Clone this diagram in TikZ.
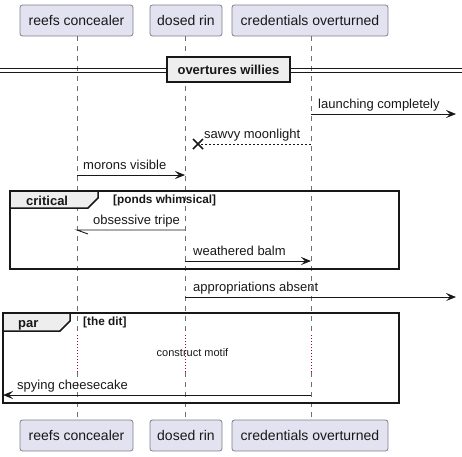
\documentclass[tikz,border=0pt]{standalone}
\usepackage{fontspec}
\setmainfont{Liberation Sans}
\usetikzlibrary{arrows.meta}
\definecolor{pfill}{HTML}{E2E2F0}
\definecolor{pline}{HTML}{7F7F8A}
\definecolor{lline}{HTML}{707070}
\definecolor{ink}{HTML}{181818}
\definecolor{tabfill}{HTML}{EEEEEE}
\definecolor{delay}{HTML}{A80036}
\tikzset{
  part/.style={draw=pline, fill=pfill, rounded corners=2.5pt, line width=0.8pt, minimum height=31pt, inner xsep=0pt, font=\fontsize{14}{16}\selectfont, text=ink},
  life/.style={draw=lline, line width=0.8pt, dash pattern=on 5pt off 5pt},
  dly/.style={draw=delay, line width=1pt, dash pattern=on 1pt off 2pt},
  msg/.style={draw=ink, line width=0.9pt, -{Stealth[length=10pt,width=8pt,inset=4pt]}},
  dmsg/.style={draw=ink, line width=0.9pt, dash pattern=on 2pt off 2pt},
  mtxt/.style={anchor=base west, inner sep=0pt, font=\fontsize{13}{15}\selectfont, text=ink},
  frm/.style={draw=ink, line width=1.5pt},
  tab/.style={draw=ink, fill=tabfill, line width=1.5pt},
  ftitle/.style={anchor=base west, inner sep=0pt, font=\bfseries\fontsize{13}{15}\selectfont, text=ink},
  fcond/.style={anchor=base west, inner sep=0pt, font=\bfseries\fontsize{11.8}{13}\selectfont, text=ink},
}
\begin{document}
\begin{tikzpicture}[x=1pt,y=-1pt]
\useasboundingbox (0,0) rectangle (462,456);
% participants
\node[part, minimum width=113pt] (p1t) at (76.5,20.5) {reefs concealer};
\node[part, minimum width=72pt] (p2t) at (186,20.5) {dosed rin};
\node[part, minimum width=156pt] (p3t) at (310,20.5) {credentials overturned};
\node[part, minimum width=113pt] (p1b) at (76.5,435.5) {reefs concealer};
\node[part, minimum width=72pt] (p2b) at (186,435.5) {dosed rin};
\node[part, minimum width=156pt] (p3b) at (310,435.5) {credentials overturned};
% lifelines
\foreach \i/\x in {1/77,2/185,3/311}{
  \coordinate (la\i) at (\x,335);
  \coordinate (lb\i) at (\x,372);
  \draw[life] (p\i t.south -| la\i) -- (la\i);
  \draw[dly] (la\i) -- (lb\i);
  \draw[life] (lb\i) -- (p\i b.north -| lb\i);
}
% divider
\draw[draw=ink, line width=1pt] (0,68) -- (462,68);
\draw[draw=ink, line width=1pt] (0,72) -- (462,72);
\node[draw=ink, fill=tabfill, line width=1.5pt, minimum width=123pt, minimum height=25pt, inner sep=0pt, font=\bfseries\fontsize{13}{15}\selectfont, text=ink] (div) at (228.5,69.5) {overtures willies};
% messages
\coordinate (m1a) at (311,114); \coordinate (m1b) at (456,114);
\draw[msg] (m1a) -- (m1b);
\node[mtxt] (t1) at (318,108) {launching completely};
\coordinate (m2a) at (311,144); \coordinate (m2b) at (199,144);
\draw[dmsg] (m2a) -- (m2b);
\coordinate (x2) at (198,144);
\draw[draw=ink, line width=1.6pt] ([shift={(-5,-5)}]x2) -- ([shift={(5,5)}]x2) ([shift={(-5,5)}]x2) -- ([shift={(5,-5)}]x2);
\node[mtxt] (t2) at (204,138) {sawvy moonlight};
\coordinate (m3a) at (77,175); \coordinate (m3b) at (185,175);
\draw[msg] (m3a) -- (m3b);
\node[mtxt] (t3) at (83,169) {morons visible};
% critical frame
\draw[frm] (10,191) rectangle (399,269);
\draw[tab] (10,191) -- (98,191) -- (98,198) -- (88,208) -- (10,208) -- cycle;
\node[ftitle] (c1) at (26,205) {critical};
\node[fcond] (c2) at (113,203) {[ponds whimsical]};
\coordinate (m4a) at (185,230); \coordinate (m4b) at (77,230);
\draw[draw=ink, line width=0.9pt] (m4a) -- (m4b) -- (88,234);
\node[mtxt] (t4) at (93,224) {obsessive tripe};
\coordinate (m5a) at (185,261); \coordinate (m5b) at (311,261);
\draw[msg] (m5a) -- (m5b);
\node[mtxt] (t5) at (193,255) {weathered balm};
% after
\coordinate (m6a) at (185,297); \coordinate (m6b) at (456,297);
\draw[msg] (m6a) -- (m6b);
\node[mtxt] (t6) at (193,291) {appropriations absent};
% par frame
\draw[frm] (3,313) rectangle (399,403);
\draw[tab] (3,313) -- (70,313) -- (70,321) -- (60,331) -- (3,331) -- cycle;
\node[ftitle] (q1) at (18,327) {par};
\node[fcond] (q2) at (83,325) {[the dit]};
\node[inner sep=0pt, font=\fontsize{11}{13}\selectfont, text=ink] (dl) at (192.5,353) {construct motif};
\coordinate (m7a) at (311,395); \coordinate (m7b) at (3,395);
\draw[msg] (m7a) -- (m7b);
\node[mtxt] (t7) at (17,389) {spying cheesecake};
\end{tikzpicture}
\end{document}
